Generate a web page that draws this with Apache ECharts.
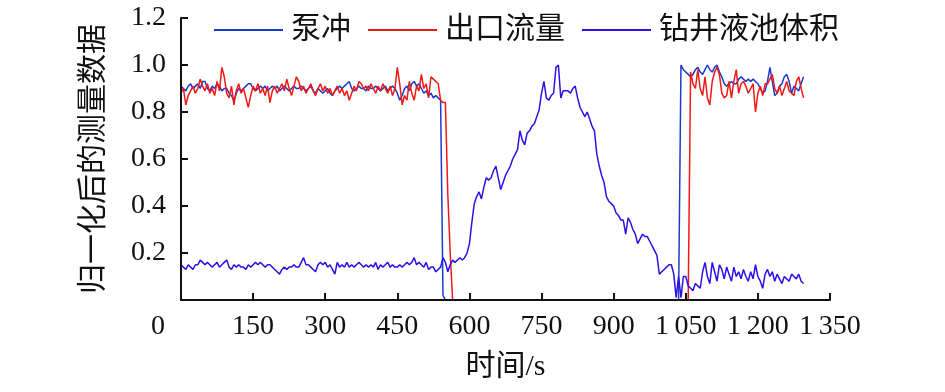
<!DOCTYPE html>
<html>
<head>
<meta charset="utf-8">
<script src="https://cdn.jsdelivr.net/npm/echarts@6/dist/echarts.min.js"></script>
<style>html,body{margin:0;padding:0;background:#fff}#c{width:945px;height:392px}</style>
</head>
<body>
<div id="c"></div>
<script>
// sample time step (s); samples start at 0 s
const timeStep = 5;
const xTicks = [0, 150, 300, 450, 600, 750, 900, 1050, 1200, 1350];
const yTicks = [0, 0.2, 0.4, 0.6, 0.8, 1.0, 1.2];
const seriesNames = ['泵冲', '出口流量', '钻井液池体积'];

// 泵冲 (pump strokes), normalized
const pumpStroke = [
  0.91,0.90,0.89,0.91,0.92,0.90,0.91,0.92,0.90,0.93,
  0.93,0.90,0.89,0.91,0.90,0.92,0.91,0.89,0.90,0.90,
  0.88,0.87,0.85,0.88,0.90,0.89,0.90,0.91,0.92,0.92,
  0.90,0.89,0.90,0.91,0.90,0.91,0.89,0.90,0.91,0.90,
  0.91,0.89,0.90,0.91,0.90,0.89,0.90,0.91,0.90,0.90,
  0.91,0.90,0.89,0.90,0.91,0.89,0.88,0.90,0.89,0.88,
  0.89,0.90,0.88,0.87,0.89,0.90,0.91,0.90,0.91,0.92,
  0.93,0.90,0.89,0.90,0.91,0.90,0.90,0.89,0.91,0.90,
  0.90,0.91,0.90,0.89,0.90,0.91,0.89,0.90,0.91,0.90,
  0.88,0.85,0.87,0.90,0.91,0.89,0.92,0.93,0.91,0.92,
  0.90,0.88,0.89,0.87,0.88,0.86,0.87,0.86,0.85,0.02,
  0,0,0,0,0,0,0,0,0,0,
  0,0,0,0,0,0,0,0,0,0,
  0,0,0,0,0,0,0,0,0,0,
  0,0,0,0,0,0,0,0,0,0,
  0,0,0,0,0,0,0,0,0,0,
  0,0,0,0,0,0,0,0,0,0,
  0,0,0,0,0,0,0,0,0,0,
  0,0,0,0,0,0,0,0,0,0,
  0,0,0,0,0,0,0,0,0,0,
  0,0,0,0,0,0,0,0,
  1.00,0.98,0.97,0.96,0.95,0.96,0.98,0.99,0.97,0.96,
  0.98,1.00,0.98,0.97,0.99,1.00,0.97,0.95,0.92,0.91,
  0.92,0.93,0.92,0.92,0.94,0.95,0.94,0.93,0.94,0.93,
  0.94,0.93,0.92,0.90,0.88,0.89,0.93,0.99,0.93,0.87,
  0.88,0.91,0.92,0.95,0.96,0.93,0.88,0.91,0.90,0.89,
  0.92,0.95
];

// 出口流量 (outlet flow), normalized
const outletFlow = [
  0.88,0.90,0.83,0.87,0.89,0.91,0.88,0.90,0.94,0.91,
  0.89,0.92,0.88,0.90,0.87,0.93,0.89,0.99,0.95,0.88,
  0.86,0.91,0.83,0.89,0.92,0.88,0.90,0.86,0.82,0.87,
  0.91,0.89,0.92,0.88,0.90,0.87,0.91,0.84,0.89,0.91,
  0.88,0.90,0.92,0.89,0.94,0.90,0.87,0.91,0.95,0.93,
  0.89,0.91,0.88,0.90,0.92,0.89,0.87,0.90,0.92,0.89,
  0.91,0.88,0.90,0.87,0.89,0.91,0.88,0.90,0.87,0.89,
  0.85,0.88,0.91,0.89,0.93,0.92,0.90,0.91,0.89,0.92,
  0.90,0.88,0.91,0.89,0.92,0.90,0.88,0.91,0.87,0.90,
  0.99,0.92,0.83,0.87,0.85,0.93,0.88,0.85,0.91,0.89,
  0.96,0.90,0.92,0.86,0.95,0.94,0.93,0.92,0.85,0.84,
  0.84,0.45,0.20,
  0,0,0,0,0,0,0,0,0,0,
  0,0,0,0,0,0,0,0,0,0,
  0,0,0,0,0,0,0,0,0,0,
  0,0,0,0,0,0,0,0,0,0,
  0,0,0,0,0,0,0,0,0,0,
  0,0,0,0,0,0,0,0,0,0,
  0,0,0,0,0,0,0,0,0,0,
  0,0,0,0,0,0,0,0,0,0,
  0,0,0,0,0,0,0,0,0,0,
  0,0,0,0,0,0,0,0,0,
  0.97,0.92,0.90,0.98,0.90,0.87,0.95,0.86,0.83,0.93,
  0.97,0.99,0.96,0.88,0.86,0.87,0.93,0.86,0.93,0.98,
  0.88,0.92,0.93,0.91,0.88,0.90,0.92,0.80,0.88,0.91,
  0.87,0.92,0.92,0.94,0.96,0.90,0.88,0.91,0.87,0.90,
  0.93,0.89,0.88,0.87,0.93,0.95,0.90,0.86
];

// 钻井液池体积 (mud pit volume), normalized
const pitVolume = [
  0.15,0.14,0.13,0.15,0.14,0.13,0.15,0.15,0.17,0.16,
  0.15,0.16,0.15,0.14,0.15,0.16,0.14,0.15,0.16,0.17,
  0.14,0.13,0.15,0.14,0.15,0.14,0.14,0.13,0.15,0.14,
  0.15,0.16,0.15,0.16,0.15,0.14,0.15,0.15,0.14,0.13,
  0.12,0.11,0.13,0.14,0.13,0.14,0.14,0.15,0.14,0.14,
  0.16,0.18,0.15,0.15,0.14,0.13,0.12,0.15,0.16,0.15,
  0.16,0.14,0.15,0.13,0.11,0.16,0.14,0.15,0.14,0.16,
  0.14,0.15,0.14,0.15,0.16,0.15,0.14,0.15,0.14,0.15,
  0.14,0.16,0.13,0.15,0.14,0.15,0.16,0.14,0.15,0.14,
  0.14,0.15,0.14,0.15,0.16,0.15,0.16,0.18,0.15,0.16,
  0.15,0.14,0.16,0.13,0.14,0.14,0.12,0.13,0.14,0.18,
  0.16,0.12,0.15,0.17,0.16,0.17,0.18,0.17,0.18,0.20,
  0.24,0.33,0.41,0.44,0.46,0.43,0.48,0.52,0.51,0.52,
  0.55,0.57,0.52,0.47,0.50,0.53,0.55,0.57,0.60,0.62,
  0.64,0.72,0.68,0.66,0.71,0.72,0.74,0.75,0.78,0.81,
  0.88,0.93,0.86,0.85,0.87,0.88,0.99,1.00,0.86,0.89,
  0.89,0.89,0.88,0.90,0.91,0.86,0.82,0.80,0.78,0.80,
  0.77,0.74,0.72,0.62,0.57,0.53,0.50,0.44,0.42,0.41,
  0.40,0.37,0.36,0.34,0.34,0.28,0.35,0.33,0.30,0.28,
  0.24,0.26,0.28,0.27,0.27,0.25,0.23,0.21,0.19,0.11,
  0.12,0.13,0.14,0.15,0.15,0.11,0.01,0.10,0.01,0.10,
  0.10,0.06,0.05,0.04,0.07,0.06,0.05,0.12,0.16,0.10,
  0.07,0.16,0.12,0.08,0.15,0.13,0.09,0.14,0.11,0.08,
  0.14,0.10,0.12,0.09,0.13,0.10,0.08,0.12,0.09,0.15,
  0.10,0.08,0.05,0.11,0.13,0.10,0.12,0.08,0.11,0.09,
  0.07,0.10,0.09,0.08,0.11,0.10,0.09,0.11,0.08,0.07
];

const colors = ['#1b3bcc', '#f01818', '#2c12e6'];
const FONT = '"Liberation Serif", "Noto Sans CJK SC", serif';

function pairs(arr) { return arr.map((v, i) => [i * timeStep, v]); }

const chart = echarts.init(document.getElementById('c'), null, { renderer: 'canvas' });
chart.setOption({
  animation: false,
  backgroundColor: '#fff',
  color: colors,
  grid: { left: 181, right: 115, top: 18, bottom: 92, containLabel: false },
  legend: {
    left: 209, top: 10,
    icon: 'rect', itemWidth: 69, itemHeight: 2, itemGap: 17,
    textStyle: { fontFamily: FONT, fontSize: 30, color: '#111', padding: [0, 0, 0, 3] },
    data: seriesNames
  },
  xAxis: {
    type: 'value', min: xTicks[0], max: xTicks[xTicks.length - 1], interval: 150, z: 10,
    name: '时间/s', nameLocation: 'middle', nameGap: 52,
    nameTextStyle: { fontFamily: FONT, fontSize: 30, color: '#111' },
    axisLine: { lineStyle: { color: '#111', width: 2 } },
    axisTick: { inside: true, length: 7, lineStyle: { color: '#111', width: 2 } },
    splitLine: { show: false },
    axisLabel: {
      fontFamily: FONT, fontSize: 28, color: '#111', margin: 13, showMaxLabel: true, showMinLabel: true,
      formatter: v => {
        if (v === 0) return '{o|0}';
        if (v >= 1000) { const s = String(v); return s.slice(0, 1) + '\u2009' + s.slice(1); }
        return String(v);
      },
      rich: { o: { fontFamily: FONT, fontSize: 28, color: '#111', padding: [0, 46, 0, 0] } }
    }
  },
  yAxis: {
    type: 'value', min: yTicks[0], max: yTicks[yTicks.length - 1], interval: 0.2, z: 10,
    name: '归一化后的测量数据', nameLocation: 'middle', nameGap: 72,
    nameTextStyle: { fontFamily: FONT, fontSize: 30, color: '#111' },
    axisLine: { show: true, lineStyle: { color: '#111', width: 2 } },
    axisTick: { show: true, inside: true, length: 7, lineStyle: { color: '#111', width: 2 } },
    splitLine: { show: false },
    axisLabel: {
      fontFamily: FONT, fontSize: 28, color: '#111', margin: 15,
      formatter: v => (v === 0 ? '' : v.toFixed(1))
    }
  },
  series: [
    { name: seriesNames[0], type: 'line', data: pairs(pumpStroke), showSymbol: false, lineStyle: { width: 1.5, color: colors[0] } },
    { name: seriesNames[1], type: 'line', data: pairs(outletFlow), showSymbol: false, lineStyle: { width: 1.5, color: colors[1] } },
    { name: seriesNames[2], type: 'line', data: pairs(pitVolume), showSymbol: false, lineStyle: { width: 1.5, color: colors[2] } }
  ]
});
</script>
</body>
</html>
